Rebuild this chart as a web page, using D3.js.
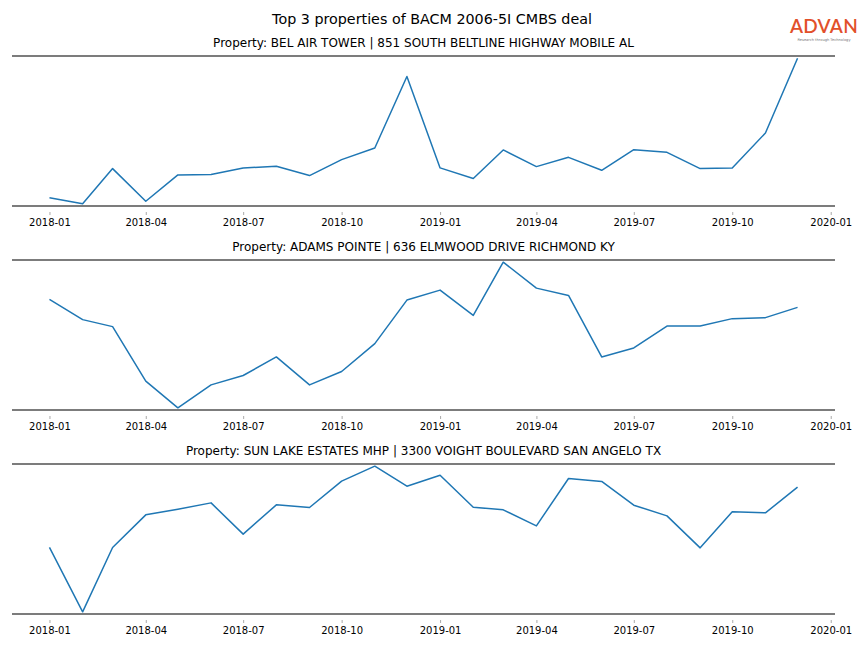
<!DOCTYPE html>
<html>
<head>
<meta charset="utf-8">
<script src="https://cdn.jsdelivr.net/npm/d3@7"></script>
<style>
  body { margin: 0; background: #fff; }
  svg { display: block; font-family: "DejaVu Sans", sans-serif; }
</style>
</head>
<body>
<svg id="chart" width="864" height="648"></svg>
<script>
const chartTitle = "Top 3 properties of BACM 2006-5I CMBS deal";
const months = ["2018-01","2018-02","2018-03","2018-04","2018-05","2018-06","2018-07","2018-08","2018-09","2018-10","2018-11","2018-12",
                "2019-01","2019-02","2019-03","2019-04","2019-05","2019-06","2019-07","2019-08","2019-09","2019-10","2019-11","2019-12"];
const tickLabels = ["2018-01","2018-04","2018-07","2018-10","2019-01","2019-04","2019-07","2019-10","2020-01"];
const propertyNames = [
  "Property: BEL AIR TOWER | 851 SOUTH BELTLINE HIGHWAY MOBILE AL",
  "Property: ADAMS POINTE | 636 ELMWOOD DRIVE RICHMOND KY",
  "Property: SUN LAKE ESTATES MHP | 3300 VOIGHT BOULEVARD SAN ANGELO TX"
];
const belAirTower = [77, 17, 370, 43, 307, 310, 377, 393, 300, 460, 577, 1293, 377, 270, 557, 390, 483, 353, 560, 533, 370, 377, 727, 1477];
const adamsPointe = [1110, 907, 837, 290, 23, 253, 347, 533, 253, 387, 667, 1103, 1203, 950, 1483, 1223, 1150, 533, 623, 843, 843, 917, 927, 1030];
const sunLake = [667, 23, 667, 993, 1050, 1113, 800, 1093, 1067, 1330, 1480, 1280, 1390, 1070, 1043, 883, 1357, 1327, 1090, 983, 663, 1023, 1013, 1270];
const seriesList = [belAirTower, adamsPointe, sunLake];

const svg = d3.select("#chart");
const parse = d3.timeParse("%Y-%m");
const dates = months.map(parse);
const DAY = 86400000;
const left = 12, right = 835;
const tops = [56, 260, 464];
const h = 150;

const x = d3.scaleTime()
  .domain([new Date(dates[0].getTime() - 35 * DAY), new Date(dates[dates.length - 1].getTime() + 35 * DAY)])
  .range([left, right]);

svg.append("text")
  .attr("x", 432).attr("y", 24)
  .attr("text-anchor", "middle")
  .attr("font-size", 14.3)
  .attr("fill", "#000")
  .text(chartTitle);

// logo
const logo = svg.append("g");
logo.append("text")
  .attr("x", 824).attr("y", 33)
  .attr("text-anchor", "middle")
  .attr("font-family", "Lato, 'Open Sans', sans-serif")
  .attr("font-size", 19)
  .attr("font-weight", 600)
  .attr("letter-spacing", 0.3)
  .attr("fill", "#e2502a")
  .text("ADVAN");
logo.append("text")
  .attr("x", 824).attr("y", 41)
  .attr("text-anchor", "middle")
  .attr("font-size", 3.6)
  .attr("fill", "#777")
  .text("Research through Technology");

seriesList.forEach((vals, i) => {
  const top = tops[i];
  const ext = d3.extent(vals);
  const pad = (ext[1] - ext[0]) * 0.015;
  const y = d3.scaleLinear().domain([ext[0] - pad, ext[1] + pad]).range([top + h, top]);
  const g = svg.append("g");

  g.append("text")
    .attr("x", (left + right) / 2).attr("y", top - 9)
    .attr("text-anchor", "middle")
    .attr("font-size", 12)
    .attr("fill", "#000")
    .text(propertyNames[i]);

  const line = d3.line().x((d, j) => x(dates[j])).y(d => y(d));
  g.append("path")
    .datum(vals)
    .attr("d", line)
    .attr("fill", "none")
    .attr("stroke", "#1f77b4")
    .attr("stroke-width", 1.5)
    .attr("stroke-linejoin", "round");

  // spines
  [top, top + h].forEach(yy => {
    g.append("line")
      .attr("x1", left).attr("x2", right)
      .attr("y1", yy).attr("y2", yy)
      .attr("stroke", "#505050")
      .attr("stroke-width", 1.6);
  });

  const axis = d3.axisBottom(x)
    .tickValues(tickLabels.map(parse))
    .tickFormat(d3.timeFormat("%Y-%m"))
    .tickSize(3)
    .tickPadding(4);
  const ag = g.append("g")
    .attr("transform", `translate(0,${top + h + 6})`)
    .call(axis);
  ag.select(".domain").remove();
  ag.selectAll(".tick line").attr("stroke", "#aaa");
  ag.selectAll(".tick text")
    .attr("font-size", 10)
    .attr("font-family", "DejaVu Sans, sans-serif")
    .attr("fill", "#000");
});
</script>
</body>
</html>
